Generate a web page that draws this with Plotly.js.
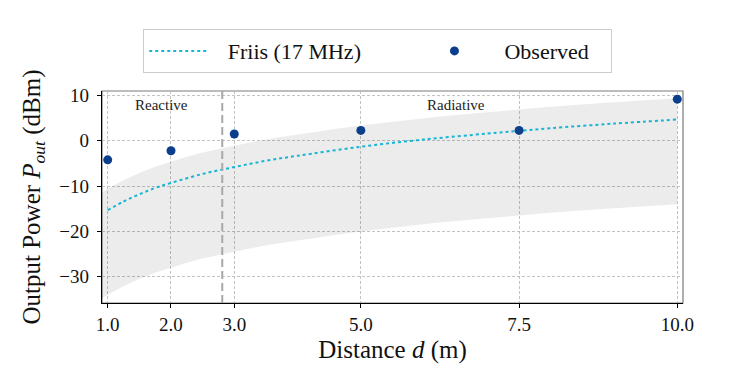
<!DOCTYPE html>
<html>
<head>
<meta charset="utf-8">
<script src="https://cdn.plot.ly/plotly-3.0.1.min.js"></script>
<style>html,body{margin:0;padding:0;background:#fff;}#chart{width:735px;height:391px;}</style>
</head>
<body>
<div id="chart"></div>
<script>
// Observed measurements
const obsDistance = [1.0, 2.0, 3.0, 5.0, 7.5, 10.0];
const obsPower = [-4.2, -2.2, 1.5, 2.3, 2.3, 9.2];

// Friis model curve
const friisDistance = [1.0, 1.25, 1.5, 1.75, 2.0, 2.5, 3.0, 3.5, 4.0, 5.0, 6.0, 7.0, 7.5, 8.0, 9.0, 10.0];
const friisPower = [-15.3, -13.4, -11.8, -10.4, -9.3, -7.3, -5.8, -4.4, -3.3, -1.3, 0.3, 1.6, 2.2, 2.8, 3.8, 4.7];

// Uncertainty band
const bandDistance = [0.91, 1.0, 1.25, 1.5, 1.75, 2.0, 2.5, 3.0, 3.5, 4.0, 5.0, 6.0, 7.0, 7.5, 8.0, 9.0, 10.0];
const bandUpper = [-11.4, -10.6, -8.7, -7.1, -5.7, -4.6, -2.6, -1.1, 0.3, 1.4, 3.4, 5.0, 6.3, 6.9, 7.5, 8.5, 9.4];
const bandLower = [-34.8, -34.0, -32.1, -30.5, -29.1, -28.0, -26.0, -24.5, -23.1, -22.0, -20.0, -18.4, -17.1, -16.5, -15.9, -14.9, -14.0];

// Reactive / radiative boundary
const boundaryDistance = 2.81;

// Ticks
const xTickVals = [1.0, 2.0, 3.0, 5.0, 7.5, 10.0];
const xTickText = ['1.0', '2.0', '3.0', '5.0', '7.5', '10.0'];
const yTickVals = [10, 0, -10, -20, -30];
const yTickText = ['10', '0', '\u221210', '\u221220', '\u221230'];

// Region labels
const regionLabels = ['Reactive', 'Radiative'];
const regionX = [1.85, 6.5];
const regionY = [7.9, 7.9];

const FONT = 'Liberation Serif, Times New Roman, serif';
const NB = n => '\u00a0'.repeat(n);

const traces = [
  {x: bandDistance, y: bandLower, type: 'scatter', mode: 'lines',
   line: {width: 0, shape: 'spline'}, showlegend: false, hoverinfo: 'skip'},
  {x: bandDistance, y: bandUpper, type: 'scatter', mode: 'lines',
   line: {width: 0, shape: 'spline'}, fill: 'tonexty', fillcolor: 'rgba(0,0,0,0.075)',
   showlegend: false, hoverinfo: 'skip'},
  {x: friisDistance, y: friisPower, type: 'scatter', mode: 'lines',
   name: NB(3) + 'Friis (17 MHz)' + NB(10),
   line: {color: '#14b6d4', width: 2, dash: 'dot', shape: 'spline'}},
  {x: obsDistance, y: obsPower, type: 'scatter', mode: 'markers',
   name: NB(3) + 'Observed' + NB(3),
   marker: {color: '#0b3f8c', size: 9}}
];

const annotations = regionLabels.map((t, i) => ({
  x: regionX[i], y: regionY[i], xref: 'x', yref: 'y', text: t, showarrow: false,
  font: {family: FONT, size: 15, color: '#222'}
}));

const layout = {
  width: 735, height: 391,
  margin: {l: 102, r: 52, t: 91, b: 88},
  paper_bgcolor: '#fff', plot_bgcolor: '#fff',
  font: {family: FONT, color: '#111'},
  showlegend: true,
  legend: {
    orientation: 'h', traceorder: 'normal',
    x: 0.071, xanchor: 'left', y: 1.292, yanchor: 'top',
    bordercolor: '#cccccc', borderwidth: 1, bgcolor: '#fff',
    font: {family: FONT, size: 22, color: '#111'},
    itemwidth: 57
  },
  xaxis: {
    range: [0.91, 10.09], tickvals: xTickVals, ticktext: xTickText,
    showgrid: true, gridcolor: '#b4b4b4', gridwidth: 0.8, griddash: '3px,2px',
    zeroline: false, showline: true, linecolor: '#000', linewidth: 1.2,
    ticks: 'outside', ticklen: 4, tickcolor: '#000',
    tickfont: {family: FONT, size: 19, color: '#111'},
    title: {text: 'Distance <i>d</i> (m)', font: {family: FONT, size: 25, color: '#111'}, standoff: 6},
    automargin: false
  },
  yaxis: {
    range: [-35.8, 11.0], tickvals: yTickVals, ticktext: yTickText,
    showgrid: true, gridcolor: '#b4b4b4', gridwidth: 0.8, griddash: '3px,2px',
    zeroline: false, showline: true, linecolor: '#000', linewidth: 1.2,
    ticks: 'outside', ticklen: 4, tickcolor: '#000', ticklabelstandoff: 4,
    tickfont: {family: FONT, size: 19, color: '#111'},
    title: {text: 'Output Power <i>P</i><sub><i>out</i></sub> (dBm)', font: {family: FONT, size: 25, color: '#111'}, standoff: 11},
    automargin: false
  },
  shapes: [
    {type: 'rect', xref: 'paper', yref: 'paper', x0: 0, x1: 1, y0: 0, y1: 1,
     line: {color: '#7a7a7a', width: 1.2}, layer: 'below'},
    {type: 'line', xref: 'x', yref: 'paper', x0: boundaryDistance, x1: boundaryDistance, y0: 0, y1: 1,
     line: {color: '#a8a8a8', width: 2, dash: '8px,4px'}, layer: 'above'}
  ],
  annotations: annotations
};

Plotly.newPlot('chart', traces, layout, {displayModeBar: false, staticPlot: true});
</script>
</body>
</html>
